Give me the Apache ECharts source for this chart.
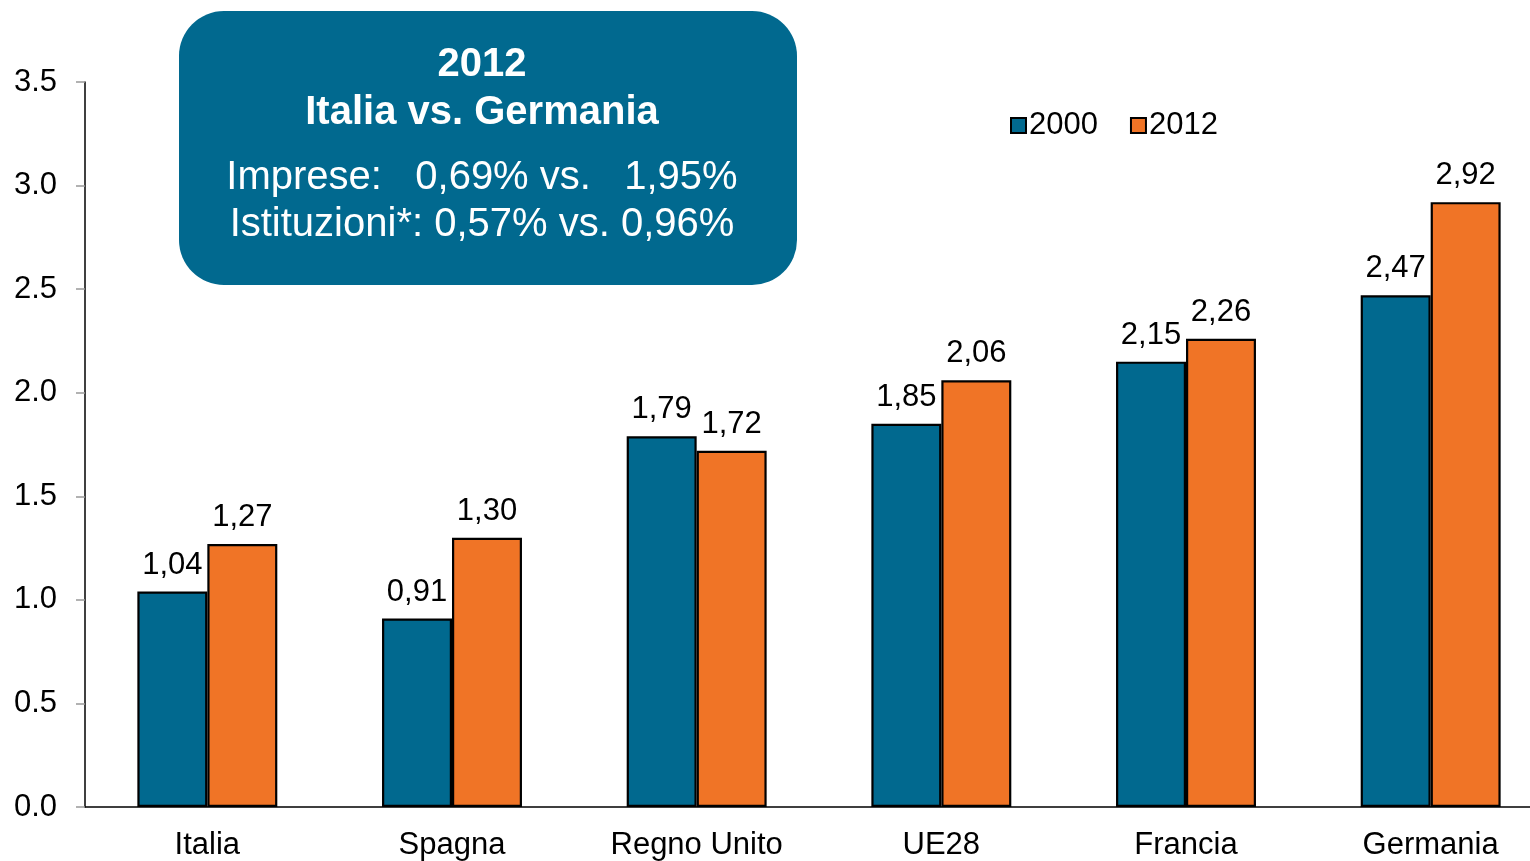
<!DOCTYPE html>
<html>
<head>
<meta charset="utf-8">
<script src="https://cdn.jsdelivr.net/npm/echarts@6/dist/echarts.min.js"></script>
<style>
  html, body { margin: 0; padding: 0; overflow: hidden; background: #fff; }
  #chart { width: 1553px; height: 861px; }
</style>
</head>
<body>
<div id="chart"></div>
<script>
// data
const countries = ['Italia', 'Spagna', 'Regno Unito', 'UE28', 'Francia', 'Germania'];
const yr2000 = [1.04, 0.91, 1.79, 1.85, 2.15, 2.47];
const yr2012 = [1.27, 1.30, 1.72, 2.06, 2.26, 2.92];
const seriesNames = ['2000', '2012'];
const boxLines = ['2012', 'Italia vs. Germania', 'Imprese:   0,69% vs.   1,95%', 'Istituzioni*: 0,57% vs. 0,96%'];

const blue = '#01698f';
const orange = '#f07426';
const font = '"Liberation Sans", Arial, sans-serif';
const narrow = '"Liberation Sans Narrow", "Liberation Sans", Arial, sans-serif';

let chart = echarts.init(document.getElementById('chart'));

function barSeries(name, data, color) {
  return {
    name: name,
    type: 'bar',
    data: data,
    barGap: '0%',
    barCategoryGap: '42.8%',
    itemStyle: {color: color, borderColor: '#000', borderWidth: 2.2},
    label: {
      show: true,
      position: 'top',
      distance: 11,
      color: '#000',
      fontFamily: font,
      fontSize: 31,
      formatter: p => p.value.toFixed(2).replace('.', ',')
    }
  };
}

let option = {
  animation: false,
  backgroundColor: '#fff',
  grid: {left: 85, right: 0, top: 82, bottom: 54},
  legend: {
    left: 1005,
    top: 105,
    itemWidth: 15,
    itemHeight: 15,
    itemGap: 32,
    icon: 'rect',
    data: seriesNames,
    textStyle: {fontFamily: font, fontSize: 31, color: '#000', padding: [0, 0, 0, -2]},
    itemStyle: {borderColor: '#000', borderWidth: 2}
  },
  xAxis: {
    type: 'category',
    data: countries,
    axisLine: {lineStyle: {color: '#000', width: 1.5}},
    axisTick: {length: 9, lineStyle: {color: '#999', width: 1.5}},
    axisLabel: {color: '#000', fontFamily: font, fontSize: 31, margin: 23}
  },
  yAxis: {
    type: 'value',
    min: 0,
    max: 3.5,
    interval: 0.5,
    splitLine: {show: false},
    axisLine: {show: true, lineStyle: {color: '#000', width: 1.5}},
    axisTick: {show: true, length: 9, lineStyle: {color: '#999', width: 1.5}},
    axisLabel: {
      color: '#000', fontFamily: font, fontSize: 31, margin: 28,
      formatter: v => v.toFixed(1)
    }
  },
  series: [
    barSeries(seriesNames[0], yr2000, blue),
    barSeries(seriesNames[1], yr2012, orange)
  ],
  graphic: [
    {
      type: 'rect',
      shape: {x: 179, y: 11, width: 618, height: 274, r: 45},
      style: {fill: blue},
      z: 100
    },
    {
      type: 'text', x: 482, y: 65, z: 101,
      style: {text: boxLines[0], fill: '#fff', font: 'bold 40px ' + narrow, align: 'center', verticalAlign: 'middle'}
    },
    {
      type: 'text', x: 482, y: 113, z: 101,
      style: {text: boxLines[1], fill: '#fff', font: 'bold 40px ' + narrow, align: 'center', verticalAlign: 'middle'}
    },
    {
      type: 'text', x: 482, y: 178, z: 101,
      style: {text: boxLines[2], fill: '#fff', font: '40px ' + narrow, align: 'center', verticalAlign: 'middle'}
    },
    {
      type: 'text', x: 482, y: 225, z: 101,
      style: {text: boxLines[3], fill: '#fff', font: '40px ' + narrow, align: 'center', verticalAlign: 'middle'}
    }
  ]
};

chart.setOption(option);
</script>
</body>
</html>
